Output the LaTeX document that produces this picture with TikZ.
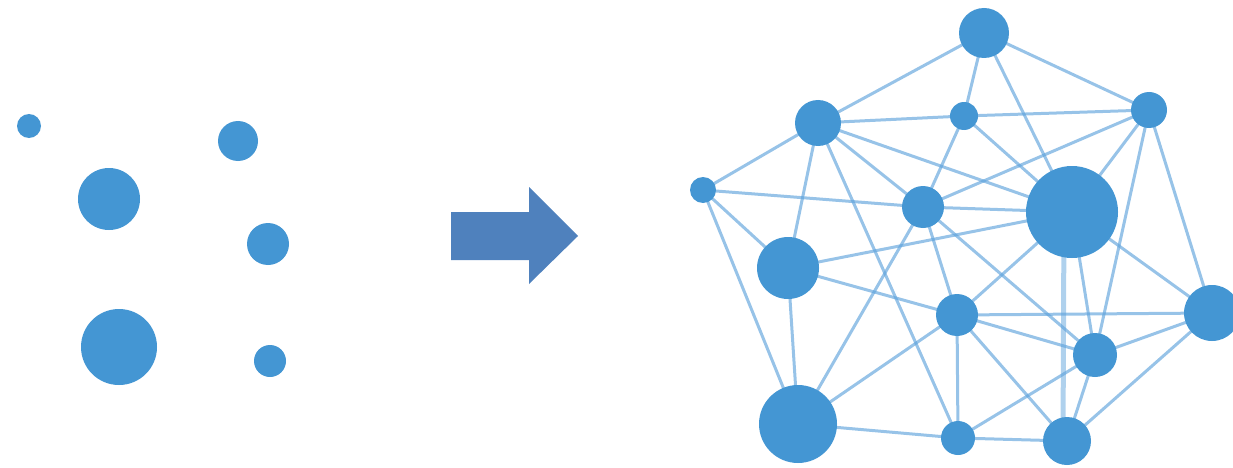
\documentclass[tikz,border=0pt]{standalone}
\usetikzlibrary{calc}
\definecolor{dotblue}{RGB}{68,150,211}
\definecolor{edgeblue}{RGB}{95,163,220}
\definecolor{arrowblue}{RGB}{79,129,189}
\begin{document}
\begin{tikzpicture}[x=1pt,y=-1pt,
  dot/.style={circle,fill=dotblue,draw=none,inner sep=0pt,minimum size=#1},
  link/.style={draw=edgeblue,line width=3pt,opacity=0.65}]
\useasboundingbox (0,0) rectangle (1233,468);
% left dots
\node[dot=24pt] (l1) at (29,126) {};
\node[dot=40pt] (l2) at (238,141) {};
\node[dot=62pt] (l3) at (109,199) {};
\node[dot=42pt] (l4) at (268,244) {};
\node[dot=76pt] (l5) at (119,347) {};
\node[dot=32pt] (l6) at (270,361) {};
% arrow
\fill[arrowblue] (451,212) -- (529,212) -- (529,187) -- (578,236) -- (529,284) -- (529,260) -- (451,260) -- cycle;
% network coordinates
\coordinate (A) at (984,33);
\coordinate (B) at (818,123);
\coordinate (C) at (964,116);
\coordinate (D) at (1149,110);
\coordinate (E) at (703,190);
\coordinate (F) at (923,207);
\coordinate (G) at (1072,212);
\coordinate (H) at (788,268);
\coordinate (I) at (957,315);
\coordinate (J) at (1212,313);
\coordinate (K) at (1095,355);
\coordinate (L) at (798,424);
\coordinate (M) at (958,438);
\coordinate (N) at (1067,441);
% edges
\foreach \u/\v in {A/B,A/C,A/D,A/G,B/C,B/E,B/H,B/M,B/G,B/F,C/D,C/F,C/G,D/F,D/G,D/K,D/J,
  E/F,E/H,E/L,F/G,F/I,F/L,F/K,G/I,G/J,G/K,H/G,H/I,H/L,I/J,I/K,I/M,I/N,I/L,
  J/K,J/N,K/M,K/N,L/M,M/N}
  \draw[link] (\u) -- (\v);
\draw[link,line width=5pt,opacity=0.5] ($(G)+(-8,0)$) -- ($(N)+(-4,0)$);
% network nodes
\node[dot=50pt] (nA) at (A) {};
\node[dot=46pt] (nB) at (B) {};
\node[dot=28pt] (nC) at (C) {};
\node[dot=36pt] (nD) at (D) {};
\node[dot=26pt] (nE) at (E) {};
\node[dot=42pt] (nF) at (F) {};
\node[dot=92pt] (nG) at (G) {};
\node[dot=62pt] (nH) at (H) {};
\node[dot=42pt] (nI) at (I) {};
\node[dot=56pt] (nJ) at (J) {};
\node[dot=44pt] (nK) at (K) {};
\node[dot=78pt] (nL) at (L) {};
\node[dot=34pt] (nM) at (M) {};
\node[dot=48pt] (nN) at (N) {};
\end{tikzpicture}
\end{document}
